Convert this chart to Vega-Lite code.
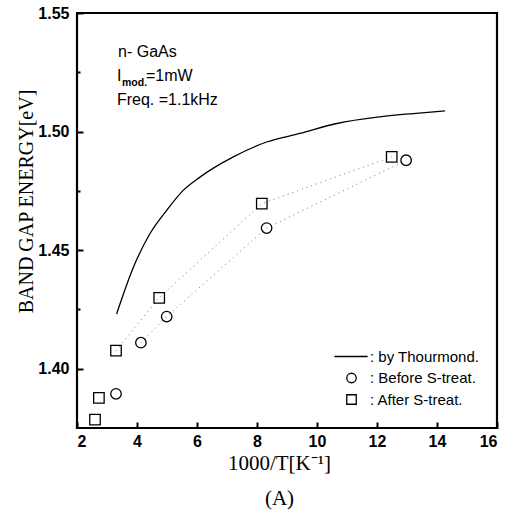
{
  "$schema": "https://vega.github.io/schema/vega-lite/v6.json",
  "width": 420,
  "height": 415,
  "autosize": "none",
  "padding": {"left": 77, "top": 13, "right": 18, "bottom": 86},
  "background": "white",
  "config": {
    "view": {"stroke": "black", "strokeWidth": 2.2},
    "axis": {"grid": false}
  },
  "datasets": {
    "main": [
      {"series": "Thourmond", "x": 3.32, "y": 1.4231},
      {"series": "Thourmond", "x": 3.88, "y": 1.4428},
      {"series": "Thourmond", "x": 4.43, "y": 1.4569},
      {"series": "Thourmond", "x": 4.99, "y": 1.4668},
      {"series": "Thourmond", "x": 5.54, "y": 1.4752},
      {"series": "Thourmond", "x": 6.1, "y": 1.4808},
      {"series": "Thourmond", "x": 7.21, "y": 1.4893},
      {"series": "Thourmond", "x": 8.32, "y": 1.4956},
      {"series": "Thourmond", "x": 9.43, "y": 1.4992},
      {"series": "Thourmond", "x": 10.66, "y": 1.5034},
      {"series": "Thourmond", "x": 12.1, "y": 1.5062},
      {"series": "Thourmond", "x": 13.21, "y": 1.5076},
      {"series": "Thourmond", "x": 14.27, "y": 1.5087},
      {"series": "Before", "x": 3.3, "y": 1.3894},
      {"series": "Before", "x": 4.13, "y": 1.411},
      {"series": "Before", "x": 4.99, "y": 1.422},
      {"series": "Before", "x": 8.32, "y": 1.4593},
      {"series": "Before", "x": 12.97, "y": 1.4879},
      {"series": "After", "x": 2.6, "y": 1.3785},
      {"series": "After", "x": 2.73, "y": 1.3877},
      {"series": "After", "x": 3.3, "y": 1.4076},
      {"series": "After", "x": 4.74, "y": 1.4299},
      {"series": "After", "x": 8.16, "y": 1.4696},
      {"series": "After", "x": 12.49, "y": 1.4893}
    ],
    "notes": [
      {"text": "n- GaAs", "x": 3.37, "y": 1.5335},
      {"text": "I", "x": 3.33, "y": 1.5234},
      {"text": "=1mW", "x": 4.3, "y": 1.5234},
      {"text": "Freq. =1.1kHz", "x": 3.33, "y": 1.5132}
    ],
    "subs": [
      {"text": "mod.", "x": 3.5, "y": 1.5205}
    ]
  },
  "layer": [
    {
      "data": {"name": "main"},
      "transform": [{"filter": "datum.series == 'Thourmond'"}],
      "mark": {"type": "line", "color": "black", "strokeWidth": 1.3, "interpolate": "monotone"},
      "encoding": {
        "x": {
          "field": "x", "type": "quantitative",
          "scale": {"domain": [2, 16], "nice": false, "zero": false},
          "axis": {
            "zindex": 1,
            "offset": -6,
            "domain": false,
            "values": [2, 3, 4, 5, 6, 7, 8, 9, 10, 11, 12, 13, 14, 15, 16],
            "labelExpr": "datum.value % 2 == 0 ? datum.label : ''",
            "ticks": true,
            "tickSize": 6,
            "tickDash": {"condition": {"test": "datum.value % 2 == 0", "value": [6, 1]}, "value": [3, 3]},
            "tickDashOffset": {"condition": {"test": "datum.value % 2 == 0", "value": 0}, "value": 3},
            "tickColor": "black", "tickWidth": 2,
            "labelFont": "Liberation Sans", "labelFontWeight": "bold", "labelFontSize": 16,
            "labelColor": "black", "labelPadding": 5,
            "title": ["1000/T[K⁻¹]", "(A)"],
            "titleFont": "Liberation Serif", "titleFontWeight": "normal", "titleFontSize": 21,
            "titleColor": "black", "titleLineHeight": 35,
            "titleX": 202, "titleY": 30, "titleAlign": "center", "titleBaseline": "top"
          }
        },
        "y": {
          "field": "y", "type": "quantitative",
          "scale": {"domain": [1.375, 1.55], "nice": false, "zero": false},
          "axis": {
            "zindex": 1,
            "offset": -6,
            "domain": false,
            "values": [1.4, 1.425, 1.45, 1.475, 1.5, 1.525, 1.55],
            "labelExpr": "round(datum.value * 1000) % 50 == 0 ? format(datum.value, '.2f') : ''",
            "ticks": true,
            "tickSize": 6,
            "tickDash": {"condition": {"test": "round(datum.value * 1000) % 50 == 0", "value": [6, 1]}, "value": [3, 3]},
            "tickDashOffset": {"condition": {"test": "round(datum.value * 1000) % 50 == 0", "value": 0}, "value": 3},
            "tickColor": "black", "tickWidth": 2,
            "labelFont": "Liberation Sans", "labelFontWeight": "bold", "labelFontSize": 16,
            "labelColor": "black", "labelPadding": 8,
            "title": "BAND GAP ENERGY[eV]",
            "titleFont": "Liberation Serif", "titleFontWeight": "normal", "titleFontSize": 20,
            "titleColor": "black", "titleAngle": 270,
            "titleX": -57, "titleY": 188, "titleAlign": "center", "titleBaseline": "middle"
          }
        }
      }
    },
    {
      "data": {"name": "main"},
      "transform": [{"filter": "(datum.series == 'Before' && datum.x >= 4.1) || (datum.series == 'After' && datum.x >= 3.2)"}],
      "mark": {"type": "line", "color": "#777777", "strokeWidth": 1, "strokeDash": [1, 4]},
      "encoding": {
        "x": {"field": "x", "type": "quantitative"},
        "y": {"field": "y", "type": "quantitative"},
        "detail": {"field": "series"}
      }
    },
    {
      "data": {"name": "main"},
      "transform": [{"filter": "datum.series != 'Thourmond'"}],
      "mark": {"type": "point", "filled": false, "color": "black", "strokeWidth": 1.3, "size": 110, "opacity": 1},
      "encoding": {
        "x": {"field": "x", "type": "quantitative"},
        "y": {"field": "y", "type": "quantitative"},
        "shape": {
          "field": "series", "type": "nominal",
          "scale": {"domain": ["Thourmond", "Before", "After"], "range": ["M-3.6,0H3.4", "circle", "square"]},
          "legend": {
            "orient": "none", "legendX": 267, "legendY": 336, "title": null, "padding": 0,
            "labelExpr": "datum.label == 'Thourmond' ? ': by Thourmond.' : (datum.label == 'Before' ? '\u00a0\u00a0\u00a0: Before S-treat.' : '\u00a0\u00a0\u00a0: After S-treat.')",
            "labelFont": "Liberation Sans", "labelFontSize": 15, "labelColor": "black",
            "symbolStrokeColor": "black", "symbolStrokeWidth": 1.3, "symbolSize": 90,
            "symbolFillColor": "transparent", "rowPadding": 5.5, "labelOffset": 11
          }
        }
      }
    },
    {
      "data": {"name": "notes"},
      "mark": {"type": "text", "align": "left", "baseline": "middle", "font": "Liberation Sans", "fontSize": 16, "color": "black"},
      "encoding": {
        "x": {"field": "x", "type": "quantitative"},
        "y": {"field": "y", "type": "quantitative"},
        "text": {"field": "text"}
      }
    },
    {
      "data": {"name": "subs"},
      "mark": {"type": "text", "align": "left", "baseline": "middle", "font": "Liberation Sans", "fontSize": 10.5, "fontWeight": "bold", "color": "black"},
      "encoding": {
        "x": {"field": "x", "type": "quantitative"},
        "y": {"field": "y", "type": "quantitative"},
        "text": {"field": "text"}
      }
    }
  ]
}
